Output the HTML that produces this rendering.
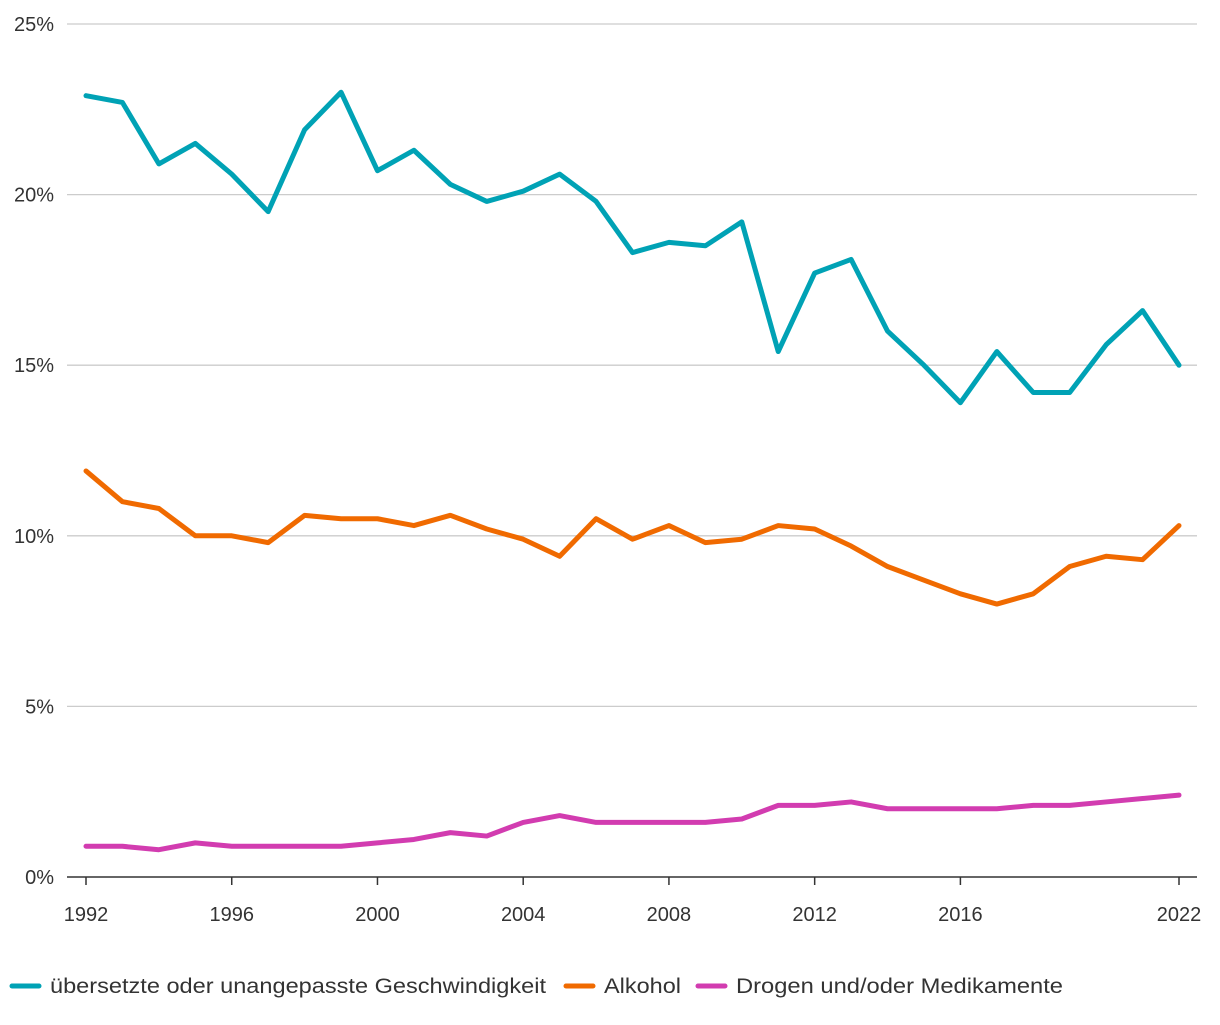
<!DOCTYPE html>
<html><head><meta charset="utf-8"><style>
body{margin:0;background:#fff;font-family:"Liberation Sans",sans-serif}
svg text{font-family:"Liberation Sans",sans-serif;fill:#333;font-size:20px}
</style></head><body>
<svg id="c" width="1220" height="1020"></svg>
<script>
const years=[];for(let y=1992;y<=2022;y++)years.push(y);
const speed=[22.9,22.7,20.9,21.5,20.6,19.5,21.9,23.0,20.7,21.3,20.3,19.8,20.1,20.6,19.8,18.3,18.6,18.5,19.2,15.4,17.7,18.1,16.0,15.0,13.9,15.4,14.2,14.2,15.6,16.6,15.0];
const alcohol=[11.9,11.0,10.8,10.0,10.0,9.8,10.6,10.5,10.5,10.3,10.6,10.2,9.9,9.4,10.5,9.9,10.3,9.8,9.9,10.3,10.2,9.7,9.1,8.7,8.3,8.0,8.3,9.1,9.4,9.3,10.3];
const drugs=[0.9,0.9,0.8,1.0,0.9,0.9,0.9,0.9,1.0,1.1,1.3,1.2,1.6,1.8,1.6,1.6,1.6,1.6,1.7,2.1,2.1,2.2,2.0,2.0,2.0,2.0,2.1,2.1,2.2,2.3,2.4];
const yTicks=[0,5,10,15,20,25];
const xTicks=[1992,1996,2000,2004,2008,2012,2016,2022];
const NS="http://www.w3.org/2000/svg",svg=document.getElementById('c');
const x=v=>86+(v-1992)*(1179-86)/30;
const y=v=>877-v*(877-24)/25;
function mk(t,a){const e=document.createElementNS(NS,t);for(const k in a)e.setAttribute(k,a[k]);svg.appendChild(e);return e;}
yTicks.forEach(t=>{
 const l=mk('line',{x1:67,x2:1197,y1:y(t),y2:y(t),stroke:t?'#ccc':'#333','stroke-width':t?1.3:1.5});
 
 
 const tx=mk('text',{x:54,y:y(t)+7,'text-anchor':'end'});tx.textContent=t+'%';
 
 
});
xTicks.forEach(t=>{
 const l=mk('line',{x1:x(t),x2:x(t),y1:877,y2:885,stroke:'#333','stroke-width':1.5});
 
 
 const tx=mk('text',{x:x(t),y:921,'text-anchor':'middle'});tx.textContent=t;
 
 
});
[[speed,'#00a2b5','speed-line'],[alcohol,'#f06a00','alcohol-line'],[drugs,'#d23cb0','drugs-line']].forEach(([d,c,n])=>{
 const p=mk('polyline',{points:d.map((v,i)=>x(years[i])+','+y(v)).join(' '),fill:'none',stroke:c,'stroke-width':5,'stroke-linejoin':'round','stroke-linecap':'round'});
 
 
});
const leg=[['übersetzte oder unangepasste Geschwindigkeit','#00a2b5',12,496],['Alkohol','#f06a00',566,77],['Drogen und/oder Medikamente','#d23cb0',698,327]];
leg.forEach(([t,c,lx,w])=>{
 const l=mk('line',{x1:lx,x2:lx+27,y1:986,y2:986,stroke:c,'stroke-width':5,'stroke-linecap':'round'});
 
 
 const tx=mk('text',{x:lx+38,y:993,textLength:w,lengthAdjust:'spacingAndGlyphs',style:'font-size:21px'});tx.textContent=t;
 
 
});
</script></body></html>
